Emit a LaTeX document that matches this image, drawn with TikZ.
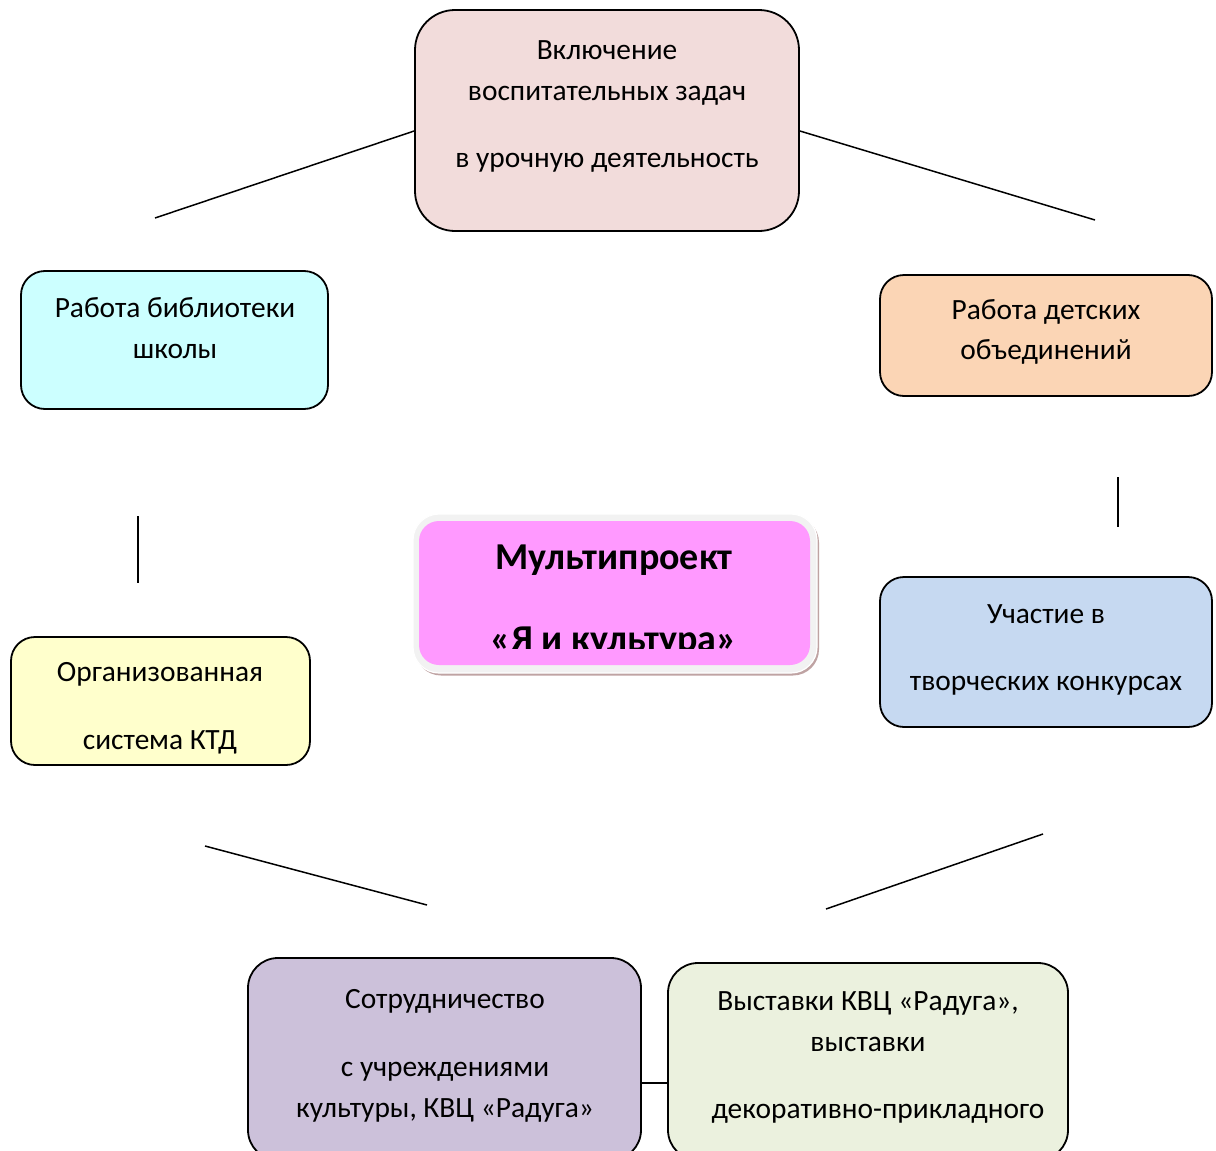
\documentclass[tikz,border=0pt]{standalone}
\usepackage{fontspec}
\setmainfont{Carlito}

\definecolor{topfill}{HTML}{F2DCDB}
\definecolor{libfill}{HTML}{CCFFFF}
\definecolor{kidsfill}{HTML}{FBD5B5}
\definecolor{mainfill}{HTML}{FF99FF}
\definecolor{framefill}{HTML}{F2F2F2}
\definecolor{shadowfill}{HTML}{BFA3A3}
\definecolor{partfill}{HTML}{C6D9F1}
\definecolor{ktdfill}{HTML}{FFFFCC}
\definecolor{coopfill}{HTML}{CCC1DA}
\definecolor{exhibfill}{HTML}{EBF1DE}

% first-line strut, so that a text node's north lies a fixed height above its first baseline
\newcommand{\lstrut}[1]{\rule{0pt}{#1}}

\tikzset{
  box/.style={draw, line width=0.9pt, rounded corners=12pt, inner sep=0pt},
  txt/.style={anchor=north, align=center, inner sep=0pt,
    font=\fontsize{14.7}{20.25}\selectfont},
  link/.style={line width=0.75pt},
}

\begin{document}
\begin{tikzpicture}[x=0.5pt,y=-0.5pt]
        \useasboundingbox (0,0) rectangle (1216,1151);
        \clip (0,0) rectangle (1216,1151);
        % boxes
        \node[box, fill=topfill, rounded corners=20pt, minimum width=192pt, minimum height=110.5pt] (top) at (607,120.5) {};
        \node[box, fill=libfill, minimum width=153.5pt, minimum height=69pt] (lib) at (174.5,340) {};
        \node[box, fill=kidsfill, minimum width=166pt, minimum height=60.5pt] (kids) at (1046,335.5) {};
        \node[box, fill=partfill, minimum width=166pt, minimum height=75pt] (part) at (1046,652) {};
        \node[box, fill=ktdfill, minimum width=149.5pt, minimum height=64pt] (ktd) at (160.5,701) {};
        \node[box, fill=coopfill, rounded corners=15pt, minimum width=196.5pt, minimum height=101pt] (coop) at (444.5,1059) {};
        \node[box, fill=exhibfill, rounded corners=15pt, minimum width=200pt, minimum height=98.5pt] (exhib) at (868,1061.5) {};
        % centre box with frame and shadow
        \node[fill=shadowfill, rounded corners=13pt, minimum width=202pt, minimum height=79.5pt] (mainshadow) at (617,596) {};
        \node[fill=framefill, draw=white, line width=0.6pt, rounded corners=13pt, minimum width=202pt, minimum height=79.5pt] (mainframe) at (615,593.5) {};
        \node[fill=mainfill, rounded corners=10pt, minimum width=195.5pt, minimum height=72pt, inner sep=0pt] (main) at (614.5,593) {};
        % texts
        \node[txt] (top-t) at (607,29.3) {\lstrut{15pt}Включение\\воспитательных задач\\[13.5pt]в урочную деятельность};
        \node[txt] (lib-t) at (175,286.7) {\lstrut{15pt}Работа библиотеки\\[0.5pt]школы};
        \node[txt] (kids-t) at (1046,289) {\lstrut{15pt}Работа детских\\объединений};
        \node[txt] (part-t) at (1046,593) {\lstrut{15pt}Участие в\\[13.25pt]творческих конкурсах};
        \node[txt] (ktd-t) at (160,651.5) {\lstrut{15pt}Организованная\\[13.75pt]система КТД};
        \node[txt] (coop-t) at (445,978) {\lstrut{15pt}Сотрудничество\\[13.75pt]с учреждениями\\[0.25pt]культуры, КВЦ «Радуга»};
        \node[txt] (exhib-t) at (868,980) {\lstrut{15pt}Выставки КВЦ «Радуга»,\\[0.25pt]выставки\\[13.25pt]\hspace*{10pt}декоративно-прикладного};
        \begin{scope}
          \clip (419,521) rectangle (810,648);
          \node[txt, font=\fontsize{19}{41}\selectfont\bfseries] (main-t) at (614,529) {\lstrut{20pt}Мультипроект\\«Я и культура»};
        \end{scope}
        % connectors
        \coordinate (libup) at (155,218);
        \coordinate (kidsup) at (1095,220);
        \coordinate (libdn) at (138,516);
        \coordinate (ktdup) at (138,583);
        \coordinate (kidsdn) at (1118,477);
        \coordinate (partup) at (1118,527);
        \coordinate (ktddn) at (205,846);
        \coordinate (coopup) at (427,905);
        \coordinate (partdn) at (1043,834);
        \coordinate (exhibup) at (826,909);
        \coordinate (join) at (641,1083);
        \draw[link] ([yshift=-5.25pt]top.west) -- (libup);
        \draw[link] ([yshift=-5.25pt]top.east) -- (kidsup);
        \draw[link] (libdn) -- (ktdup);
        \draw[link] (kidsdn) -- (partup);
        \draw[link] (ktddn) -- (coopup);
        \draw[link] (partdn) -- (exhibup);
        \draw[link] (coop.east |- join) -- (exhib.west |- join);
\end{tikzpicture}
\end{document}
